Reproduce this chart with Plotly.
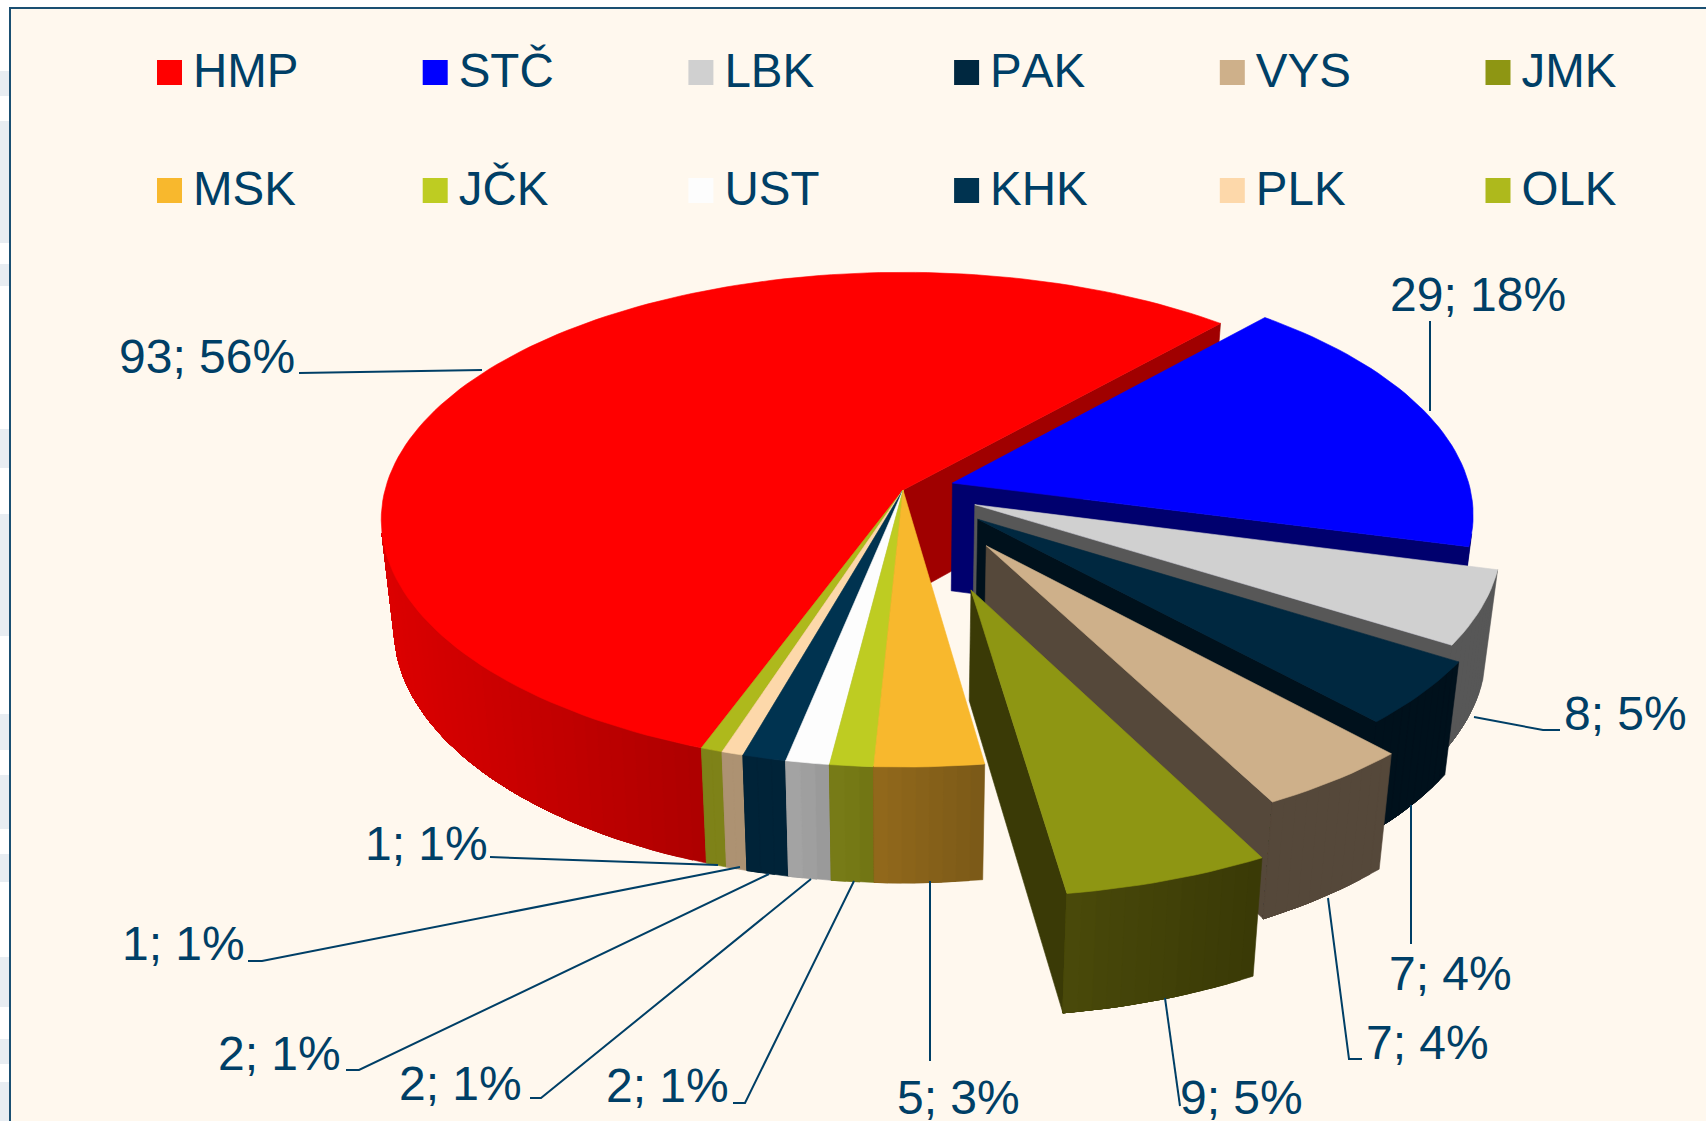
import numpy as np
import plotly.graph_objects as go

NAMES = ["HMP", "STČ", "LBK", "PAK", "VYS", "JMK", "MSK", "JČK", "UST", "KHK", "PLK", "OLK"]
VALUES = [93, 29, 8, 7, 7, 9, 5, 2, 2, 2, 1, 1]
LABELS = ["93; 56%", "29; 18%", "8; 5%", "7; 4%", "7; 4%", "9; 5%", "5; 3%", "2; 1%", "2; 1%", "2; 1%", "1; 1%", "1; 1%"]
PULLS = [0, 0.10, 0.15, 0.185, 0.272, 0.41, 0, 0, 0, 0, 0, 0]
TOP_COLORS = ["#FF0000", "#0000FF", "#D0D0D0", "#002840", "#CEB08A", "#8E9613",
              "#F8B82D", "#BECC22", "#FDFDFD", "#003350", "#FDD8AA", "#AEB91C"]
RADIAL_COLORS = ["#A00000", "#00006E", "#575757", "#00111C", "#55483A", "#3A3A06",
                 "#7C5A18", "#727614", "#9A9A9A", "#002338", "#AD9272", "#7E8218"]
# wall colours at the screen-right and screen-left ends of each slice's visible rim
WALL_RIGHT = ["#AE0000", "#00006E", "#575757", "#00111C", "#55483A", "#3A3A06",
              "#7C5A18", "#727614", "#9A9A9A", "#002338", "#AD9272", "#7E8218"]
WALL_LEFT = ["#DC0000", "#00006E", "#575757", "#00111C", "#55483A", "#4A4A0A",
             "#946A1C", "#7A7E18", "#A8A8A8", "#002338", "#AD9272", "#7E8218"]
DRAW_ORDER = [0, 1, 2, 3, 4, 11, 10, 9, 8, 7, 6, 5]
LABEL_POS = [(119, 361), (1390, 299), (1564, 718), (1389, 978), (1366, 1047), (1180, 1102),
             (897, 1102), (606, 1090), (399, 1088), (218, 1058), (122, 948), (365, 848)]
LEADERS = [[(299, 373), (482, 370)],
           [(1430, 321), (1430, 411)],
           [(1560, 730), (1543, 730), (1474, 717)],
           [(1411, 944), (1411, 805)],
           [(1362, 1059), (1349, 1059), (1328, 898)],
           [(1180, 1106), (1165, 998)],
           [(930, 1061), (930, 881)],
           [(733, 1103), (745, 1103), (854, 881)],
           [(530, 1098), (541, 1098), (811, 879)],
           [(346, 1070), (359, 1070), (769, 874)],
           [(248, 961), (262, 961), (740, 867)],
           [(490, 857), (718, 865)]]
STRIP_BANDS = [(71, 96), (121, 243), (264, 286), (429, 468), (514, 636), (714, 750),
               (775, 829), (854, 882), (957, 1007), (1039, 1064), (1082, 1121)]

CX, CY, RX, RY, K, H, G = 903, 490, 518, 243.8, 0.12, 108, 0.975
START = 200.2
TEXT = "#003F66"
FONT = "Liberation Sans"
LABEL_SIZE = 48


def project(x, y, bottom=False):
    f = 1 / (1 - K * y)
    if bottom:
        return CX + x * RX * f * G, CY + y * RY * f * G + H * f
    return CX + x * RX * f, CY + y * RY * f


def area(p):
    return sum(p[i][0] * p[(i + 1) % len(p)][1] - p[(i + 1) % len(p)][0] * p[i][1] for i in range(len(p)))


def mix(c0, c1, t):
    a = [int(c0[i:i + 2], 16) for i in (1, 3, 5)]
    b = [int(c1[i:i + 2], 16) for i in (1, 3, 5)]
    return "rgb({},{},{})".format(*[round(u + (v - u) * t) for u, v in zip(a, b)])


fig = go.Figure()


def poly(points, color):
    xs = [p[0] for p in points] + [points[0][0]]
    ys = [p[1] for p in points] + [points[0][1]]
    fig.add_trace(go.Scatter(x=xs, y=ys, mode="lines", fill="toself", fillcolor=color,
                             line=dict(color=color, width=0.6), hoverinfo="skip", showlegend=False))


total = sum(VALUES)
sweeps = [v / total * 360 for v in VALUES]
starts = START + np.concatenate([[0], np.cumsum(sweeps)[:-1]])

for i in DRAW_ORDER:
    a0, a1 = starts[i], starts[i] + sweeps[i]
    mid = np.radians((a0 + a1) / 2)
    ox, oy = PULLS[i] * np.sin(mid), -PULLS[i] * np.cos(mid)
    thetas = np.radians(np.linspace(a0, a1, max(2, int(sweeps[i] / 1.5) + 2)))
    rim = [(ox + np.sin(t), oy - np.cos(t)) for t in thetas]
    top = [project(*p) for p in rim]
    bot = [project(*p, bottom=True) for p in rim]
    apex_t, apex_b = project(ox, oy), project(ox, oy, bottom=True)
    # radial walls
    q0 = [apex_t, top[0], bot[0], apex_b]
    q1 = [apex_t, top[-1], bot[-1], apex_b]
    if area(q0) < 0:
        poly(q0, RADIAL_COLORS[i])
    if area(q1) > 0:
        poly(q1, RADIAL_COLORS[i])
    # outer wall with a gradient: each band runs to the end of the visible wall,
    # and the next band paints over it, so no seams show
    n = len(rim) - 1
    visible = [j for j in range(n) if area([top[j], top[j + 1], bot[j + 1], bot[j]]) < 0]
    if visible:
        last = visible[-1] + 1
        x_right, x_left = top[visible[0]][0], top[last][0]
        for j in visible:
            tt = (x_right - top[j][0]) / max(x_right - x_left, 1)
            poly(top[j:last + 1] + bot[j:last + 1][::-1], mix(WALL_RIGHT[i], WALL_LEFT[i], tt))
    poly([apex_t] + top, TOP_COLORS[i])

# leader lines
for seg in LEADERS:
    fig.add_trace(go.Scatter(x=[p[0] for p in seg], y=[p[1] for p in seg], mode="lines",
                             line=dict(color=TEXT, width=2), hoverinfo="skip", showlegend=False))

# data labels
fig.add_trace(go.Scatter(x=[p[0] for p in LABEL_POS], y=[p[1] for p in LABEL_POS], mode="text",
                         text=LABELS, textposition="middle right",
                         textfont=dict(family=FONT, size=LABEL_SIZE, color=TEXT),
                         hoverinfo="skip", showlegend=False))

# legend
for i, name in enumerate(NAMES):
    col, row = i % 6, i // 6
    lx = 169.5 + col * 265.7
    ly = 72.5 + row * 118
    fig.add_trace(go.Scatter(x=[lx], y=[ly], mode="markers",
                             marker=dict(symbol="square", size=25, color=TOP_COLORS[i], line=dict(width=0)),
                             hoverinfo="skip", showlegend=False))
    fig.add_trace(go.Scatter(x=[lx + 23.5], y=[ly + 3], mode="text", text=[name], textposition="middle right",
                             textfont=dict(family=FONT, size=47.5, color=TEXT),
                             hoverinfo="skip", showlegend=False))

shapes = [dict(type="rect", xref="x", yref="y", x0=0, x1=10, y0=a, y1=b, layer="below",
               fillcolor="#E8EDF2", line=dict(width=0)) for a, b in STRIP_BANDS]
shapes.append(dict(type="rect", xref="x", yref="y", x0=10, x1=1720, y0=8, y1=1135, layer="below",
                   fillcolor="#FFF8EE", line=dict(color="#1A4F72", width=2)))

fig.update_layout(
    width=1706, height=1121, margin=dict(l=0, r=0, t=0, b=0, pad=0), autosize=False,
    paper_bgcolor="#FFFFFF", plot_bgcolor="rgba(0,0,0,0)", showlegend=False,
    xaxis=dict(range=[0, 1706], visible=False, fixedrange=True),
    yaxis=dict(range=[1121, 0], visible=False, fixedrange=True),
    shapes=shapes,
)
fig.write_html("out.html", config={"displayModeBar": False},
               post_script="document.body.style.margin='0';document.documentElement.style.overflow='hidden';"
                           "var s=document.createElement('style');s.textContent='text{font-kerning:none}';"
                           "document.head.appendChild(s);")
